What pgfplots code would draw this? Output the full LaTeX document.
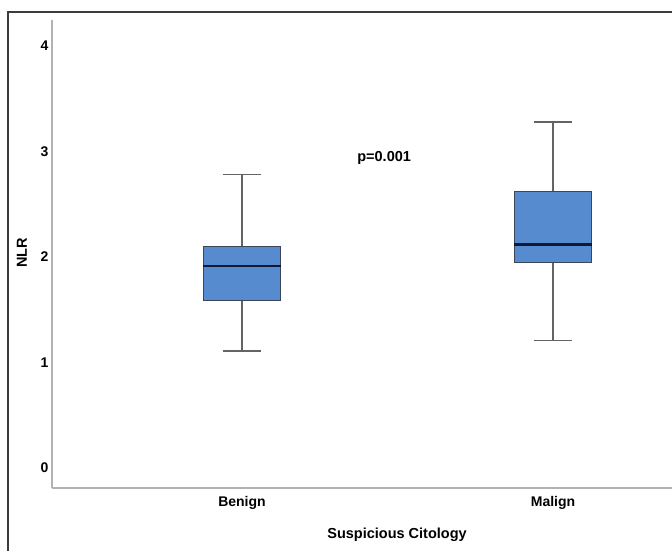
\documentclass[border=0pt]{standalone}
\usepackage{fontspec}
\setmainfont{Liberation Sans}
\usepackage{pgfplots}
\pgfplotsset{compat=1.18}
\usepgfplotslibrary{statistics}
\definecolor{boxblue}{RGB}{86,140,207}
\definecolor{boxedge}{RGB}{60,70,85}
\definecolor{mednavy}{RGB}{15,25,55}
\definecolor{whisk}{RGB}{100,100,100}
\definecolor{axgray}{RGB}{178,178,178}
\definecolor{framegray}{RGB}{60,60,60}
\begin{document}
\begin{tikzpicture}
\useasboundingbox (0pt,0pt) rectangle (672pt,550pt);
\clip (0pt,0pt) rectangle (672pt,550pt);
\draw[line width=1.2pt, draw=framegray] (8pt,-10pt) -- (8pt,538pt) -- (690pt,538pt);
\begin{axis}[
  at={(52pt,62pt)}, anchor=south west,
  scale only axis, width=625.4pt, height=468.4pt,
  xmin=-0.611, xmax=1.40, ymin=-0.19, ymax=4.25,
  axis x line=bottom, axis y line=left,
  axis line style={draw=axgray, line width=1.5pt, -},
  major tick length=0pt,
  xtick={0,1}, xticklabels={Benign,Malign},
  ytick={0,1,2,3,4},
  tick label style={font=\fontsize{14}{16}\selectfont\bfseries},
  /pgf/number format/assume math mode=true,
  xticklabel style={anchor=center, yshift=-15pt},
  xlabel={Suspicious Citology},
  ylabel={NLR},
  every axis x label/.style={at={(axis description cs:0.5517,-0.1004)}, anchor=center, font=\fontsize{14.5}{17}\selectfont\bfseries},
  every axis y label/.style={at={(axis description cs:-0.048,0.502)}, anchor=center, rotate=90, font=\fontsize{14.5}{17}\selectfont\bfseries},
  boxplot/draw direction=y,
  boxplot/box extend=0.25,
  boxplot/whisker extend=0.125,
  boxplot/every box/.style={draw=boxedge, line width=0.8pt, fill=boxblue},
  boxplot/every whisker/.style={draw=whisk, line width=1.3pt},
  boxplot/every median/.style={draw=mednavy, line width=2.6pt},
  clip=false,
]
\addplot+[mark=none, boxplot prepared={draw position=0, lower whisker=1.11, lower quartile=1.59, median=1.915, upper quartile=2.10, upper whisker=2.78}] coordinates {};
\addplot+[mark=none, boxplot prepared={draw position=1, lower whisker=1.21, lower quartile=1.95, median=2.12, upper quartile=2.62, upper whisker=3.28}] coordinates {};
\node[font=\fontsize{14.5}{17}\selectfont\bfseries, anchor=center] at (axis cs:0.457,2.94) {p=0.001};
\end{axis}
\end{tikzpicture}
\end{document}
